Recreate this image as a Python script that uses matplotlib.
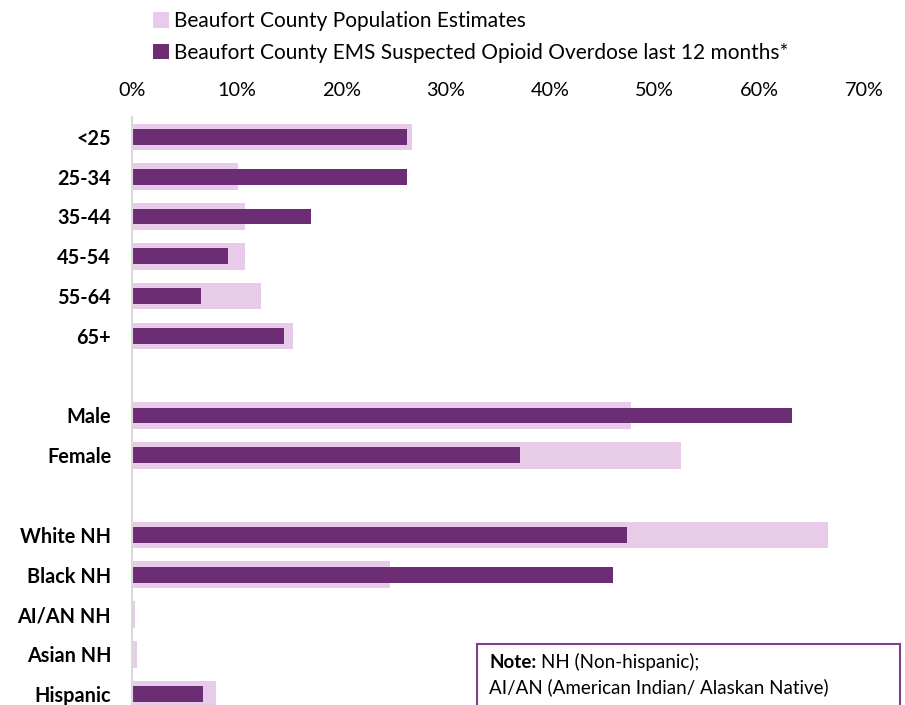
import matplotlib.pyplot as plt
import matplotlib.patches as mpatches

plt.rcParams['font.family'] = ['Lato', 'DejaVu Sans']

# rows from top to bottom; '' marks a blank spacer row
categories = ['<25', '25-34', '35-44', '45-54', '55-64', '65+', '',
              'Male', 'Female', '',
              'White NH', 'Black NH', 'AI/AN NH', 'Asian NH', 'Hispanic']
population = [26.8, 10.1, 10.8, 10.8, 12.3, 15.4, None,
              47.7, 52.5, None,
              66.6, 24.7, 0.3, 0.5, 8.0]
ems_overdose = [26.3, 26.3, 17.1, 9.2, 6.6, 14.5, None,
                63.1, 37.1, None,
                47.3, 46.0, 0.0, 0.0, 6.8]
x_ticks = [0, 10, 20, 30, 40, 50, 60, 70]

pop_color = '#E8CBE8'
ems_color = '#6C2D74'

fig = plt.figure(figsize=(9.05, 7.05), dpi=100)
W, H = 905, 705
# axes box in pixels: 0% at x=132, 70% at x=864, rows from y=117 to y=714
ax = fig.add_axes([132 / W, (H - 714) / H, (864 - 132) / W, (714 - 117) / H])

rows = [i for i, c in enumerate(categories) if c]
ax.barh(rows, [population[i] for i in rows], height=0.67, color=pop_color,
        label='Beaufort County Population Estimates', zorder=2)
ax.barh(rows, [ems_overdose[i] for i in rows], height=0.4, color=ems_color,
        label='Beaufort County EMS Suspected Opioid Overdose last 12 months*', zorder=3)

ax.set_xlim(0, 70)
ax.set_ylim(len(categories) - 0.5, -0.5)
ax.set_yticks(rows)
ax.set_yticklabels([categories[i] for i in rows], fontsize=14.3, fontweight='bold')
ax.set_xticks(x_ticks)
ax.set_xticklabels([f'{t}%' for t in x_ticks], fontsize=14.3)
ax.xaxis.tick_top()
ax.tick_params(axis='both', length=0)
ax.tick_params(axis='x', pad=13)
ax.tick_params(axis='y', pad=15)

for s in ['top', 'right', 'bottom']:
    ax.spines[s].set_visible(False)
ax.spines['left'].set_color('#D9D9D9')
ax.spines['left'].set_linewidth(1.5)
ax.spines['left'].set_zorder(4)

leg = fig.legend(loc='upper left', bbox_to_anchor=(145 / W, 1 - 3 / H),
                 frameon=False, fontsize=15, handlelength=0.75, handleheight=0.75,
                 handletextpad=0.25, labelspacing=0.55, borderaxespad=0)

# note box in the lower right corner
note = mpatches.Rectangle((477 / W, (H - 740) / H), (900 - 477) / W, (740 - 644) / H,
                          transform=fig.transFigure, facecolor='white',
                          edgecolor='#7E3F8F', linewidth=1.5, zorder=10)
fig.add_artist(note)
note_head = fig.text(489 / W, 1 - 662 / H, 'Note:', fontsize=13.5, fontweight='bold',
                     va='center', zorder=11)
fig.add_artist(plt.Annotation('NH (Non-hispanic);', xy=(1, 0.5), xycoords=note_head,
                              xytext=(3.5, 0), textcoords='offset points',
                              fontsize=13.5, va='center', ha='left', zorder=11))
fig.text(489 / W, 1 - 687 / H, 'AI/AN (American Indian/ Alaskan Native)', fontsize=13.5,
         va='center', zorder=11)

fig.savefig('out.png', dpi=100)
